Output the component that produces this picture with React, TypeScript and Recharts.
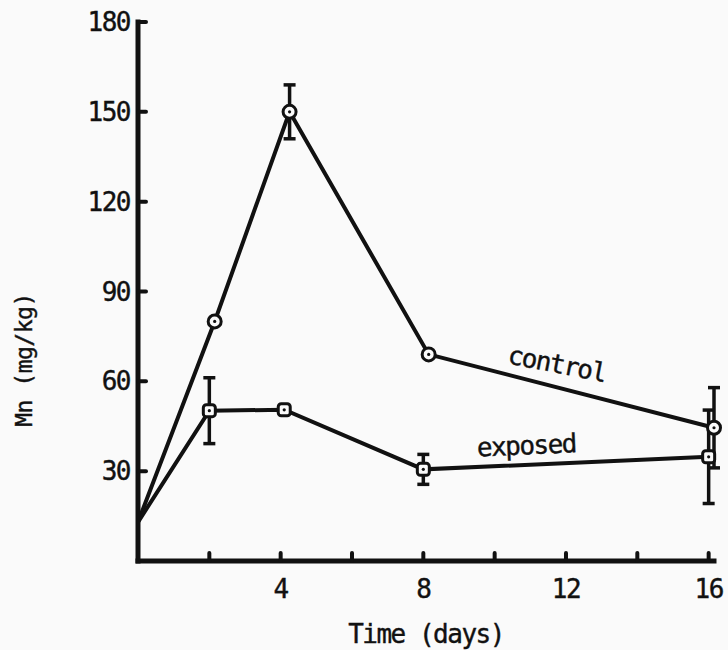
import { ErrorBar, Label, Line, LineChart, ReferenceDot, XAxis, YAxis } from 'recharts';

// Mn concentration over time, control vs exposed (mean ± error)
const controlDays = [0, 2.15, 4.25, 8.15, 16.15];
const controlMn = [13, 80, 150, 69, 44.5];
const controlErr = [0, 0, 9, 0, 13.4];

const exposedDays = [0, 2, 4.1, 8, 16];
const exposedMn = [13, 50.2, 50.5, 30.6, 34.8];
const exposedErr = [0, 11, 0, 5, 15.6];

const dayTicks = [2, 4, 6, 8, 10, 12, 14, 16];
const dayLabels = [4, 8, 12, 16];
const mnTicks = [30, 60, 90, 120, 150, 180];

const INK = '#111';
const FONT = '"DejaVu Sans Mono", monospace';

const controlData = controlDays.map((t, i) => ({ t, mn: controlMn[i], err: controlErr[i] }));
const exposedData = exposedDays.map((t, i) => ({ t, mn: exposedMn[i], err: exposedErr[i] }));

const textStyle = { fontFamily: FONT, fontSize: 26, letterSpacing: -1.5, fill: INK, stroke: INK, strokeWidth: 0.4 };

function DayTick(props: any) {
  const { x, y, payload } = props;
  return (
    <g>
      <line x1={x} y1={y} x2={x} y2={y - 8} stroke={INK} strokeWidth={4} strokeLinecap="round" />
      {dayLabels.includes(payload.value) && (
        <text x={x} y={y + 37} textAnchor="middle" style={textStyle}>
          {payload.value}
        </text>
      )}
    </g>
  );
}

function MnTick(props: any) {
  const { x, y, payload } = props;
  return (
    <g>
      <line x1={x} y1={y} x2={x + 8} y2={y} stroke={INK} strokeWidth={4} strokeLinecap="round" />
      <text x={x - 8} y={y + 9} textAnchor="end" style={textStyle}>
        {payload.value}
      </text>
    </g>
  );
}

function CircleDot(props: any) {
  const { cx, cy, index } = props;
  if (index === 0 || cx == null) return <g key={`c${index}`} />;
  return (
    <g key={`c${index}`}>
      <circle cx={cx} cy={cy} r={6.5} fill="#fafafa" stroke={INK} strokeWidth={3} />
      <circle cx={cx} cy={cy} r={1.6} fill={INK} />
    </g>
  );
}

function SquareDot(props: any) {
  const { cx, cy, index } = props;
  if (index === 0 || cx == null) return <g key={`s${index}`} />;
  return (
    <g key={`s${index}`}>
      <rect x={cx - 6} y={cy - 6} width={12} height={12} rx={3} fill="#fafafa" stroke={INK} strokeWidth={3} />
      <circle cx={cx} cy={cy} r={1.6} fill={INK} />
    </g>
  );
}

// series name written along its line
function CurveLabel({ viewBox, text, tilt }: any) {
  const x = viewBox.x + (viewBox.width || 0) / 2;
  const y = viewBox.y + (viewBox.height || 0) / 2;
  return (
    <text x={x} y={y} textAnchor="middle" transform={`rotate(${tilt} ${x} ${y})`} style={textStyle}>
      {text}
    </text>
  );
}

function XTitle({ viewBox }: any) {
  const x = viewBox.x + viewBox.width / 2;
  return (
    <text x={x} y={viewBox.y + 82} textAnchor="middle" style={textStyle}>
      Time (days)
    </text>
  );
}

function YTitle({ viewBox }: any) {
  const x = viewBox.x + 32;
  const y = viewBox.y + 338;
  return (
    <text
      x={x}
      y={y}
      textAnchor="middle"
      transform={`rotate(-90 ${x} ${y})`}
      style={{ ...textStyle, fontSize: 23, letterSpacing: -0.5 }}
    >
      Mn (mg/kg)
    </text>
  );
}

export default function App() {
  return (
    <div style={{ position: 'absolute', left: 0, top: 0, width: 728, height: 650, background: '#fafafa' }}>
      <LineChart width={728} height={650} margin={{ top: 22, right: 14, left: 0, bottom: 0 }}>
        <XAxis
          type="number"
          dataKey="t"
          domain={[0, 16]}
          ticks={dayTicks}
          interval={0}
          height={89}
          tickSize={0}
          tickMargin={0}
          tickLine={false}
          tick={<DayTick />}
          axisLine={{ stroke: INK, strokeWidth: 5, strokeLinecap: 'square' }}
          allowDuplicatedCategory={false}
        >
          <Label content={<XTitle />} />
        </XAxis>
        <YAxis
          type="number"
          domain={[0, 180]}
          ticks={mnTicks}
          interval={0}
          width={138}
          tickSize={0}
          tickMargin={0}
          tickLine={false}
          tick={<MnTick />}
          axisLine={{ stroke: INK, strokeWidth: 5, strokeLinecap: 'square' }}
        >
          <Label content={<YTitle />} />
        </YAxis>
        <Line
          data={controlData}
          dataKey="mn"
          type="linear"
          stroke={INK}
          strokeWidth={4}
          dot={CircleDot}
          activeDot={false}
          isAnimationActive={false}
        >
          <ErrorBar dataKey="err" direction="y" width={6} stroke={INK} strokeWidth={3.5} />
        </Line>
        <Line
          data={exposedData}
          dataKey="mn"
          type="linear"
          stroke={INK}
          strokeWidth={4}
          dot={SquareDot}
          activeDot={false}
          isAnimationActive={false}
        >
          <ErrorBar dataKey="err" direction="y" width={6} stroke={INK} strokeWidth={3.5} />
        </Line>
        <ReferenceDot x={11.7} y={62.9} r={1} fill="none" stroke="none" label={<CurveLabel text="control" tilt={11} />} />
        <ReferenceDot x={10.9} y={35.6} r={1} fill="none" stroke="none" label={<CurveLabel text="exposed" tilt={-2.5} />} />
      </LineChart>
    </div>
  );
}
